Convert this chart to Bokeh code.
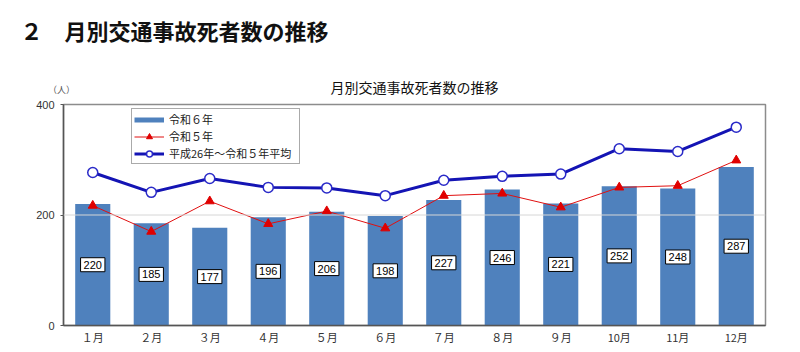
from bokeh.plotting import figure
from bokeh.models import (ColumnDataSource, Range1d, FixedTicker, Label,
                          Span, Legend, LegendItem, Title)
from bokeh.core.properties import value
from bokeh.embed import file_html
from bokeh.resources import INLINE

months = ["１月", "２月", "３月", "４月", "５月", "６月", "７月", "８月", "９月", "10月", "11月", "12月"]
r6 = [220, 185, 177, 196, 206, 198, 227, 246, 221, 252, 248, 287]
r5 = [217, 170, 225, 184, 207, 176, 235, 239, 214, 250, 253, 299]
avg = [277, 241, 266, 250, 249, 235, 263, 270, 274, 320, 315, 359]
y_ticks = [0, 200, 400]

series_names = ["令和６年", "令和５年", "平成26年～令和５年平均"]
header = "２　月別交通事故死者数の推移"
chart_title = "月別交通事故死者数の推移"
unit_label = "（人）"

JP = "Noto Sans CJK JP"
NUM = "Liberation Sans"
BAR_C = "#4F81BD"
RED_C = "#E01010"
BLUE_C = "#1414B4"

src = ColumnDataSource(dict(
    m=months, r6=r6, r5=r5, avg=avg,
    mid=[v / 2 for v in r6],
    txt=[str(v) for v in r6],
))

p = figure(x_range=months, y_range=Range1d(0, 400), width=800, height=352,
           output_backend="svg", toolbar_location=None,
           min_border_left=63, min_border_right=35, min_border_top=104,
           min_border_bottom=27, background_fill_color="white",
           border_fill_color="white")
p.x_range.range_padding = 0
p.xgrid.grid_line_color = None
p.ygrid.grid_line_color = None
p.outline_line_color = "#8c8c8c"
p.outline_line_width = 1.5

# header is the outermost title, chart title sits closer to the frame
p.title.text = header
p.title.text_font = JP
p.title.text_font_size = "22px"
p.title.text_font_style = "bold"
p.title.text_color = "#111111"
p.title.align = "left"
p.title.offset = -43
p.title.standoff = 18
p.add_layout(Title(text=chart_title, text_font=JP, text_font_size="14px",
                   text_font_style="normal", text_color="#111111",
                   align="center", standoff=15), "above")

bars = p.vbar(x="m", top="r6", width=0.6, source=src, fill_color=BAR_C,
              line_color=None)

p.add_layout(Span(location=200, dimension="width", line_color="#D6D6D6",
                  line_width=1))

p.text(x="m", y="mid", text="txt", source=src, text_align="center",
       text_baseline="middle", text_font=value(NUM), text_font_size="11px",
       text_color="black", background_fill_color="white",
       border_line_color="black", border_line_width=1, padding=3)

r5_line = p.line(x="m", y="r5", source=src, line_color=RED_C, line_width=1)
r5_pts = p.scatter(x="m", y="r5", source=src, marker="triangle", size=9,
                   fill_color="#E00000", line_color="#E00000")
avg_line = p.line(x="m", y="avg", source=src, line_color=BLUE_C, line_width=3)
avg_pts = p.scatter(x="m", y="avg", source=src, marker="circle", size=10,
                    fill_color="white", line_color="#2A2AC8", line_width=1.5)

bar_key = p.line(x="m", y="r6", source=src, line_color=BAR_C, line_width=5,
                 visible=False)

legend = Legend(items=[
    LegendItem(label=series_names[0], renderers=[bar_key]),
    LegendItem(label=series_names[1], renderers=[r5_line, r5_pts]),
    LegendItem(label=series_names[2], renderers=[avg_line, avg_pts]),
], location=(68, 161), orientation="vertical", padding=2, spacing=1,
    glyph_width=30, glyph_height=15, label_height=15, label_width=128,
    label_standoff=5, label_text_font=JP, label_text_font_size="11px",
    label_text_color="#222222", border_line_color="#555555",
    border_line_width=1, background_fill_color="white", margin=0,
    inactive_fill_alpha=0)
p.add_layout(legend)

# unit label placed in the top side panel
p.add_layout(Label(x=-2, y=-22, x_units="screen", y_units="screen",
                   text=unit_label, text_font=JP, text_font_size="9px",
                   text_align="center", text_baseline="middle",
                   text_color="#555555"), "above")

# axes
p.yaxis.ticker = FixedTicker(ticks=y_ticks)
p.yaxis.minor_tick_line_color = None
p.yaxis.major_tick_out = 3
p.yaxis.major_tick_in = 0
p.yaxis.major_tick_line_color = "#555555"
p.yaxis.axis_line_color = "#555555"
p.yaxis.axis_line_width = 1.5
p.yaxis.major_label_text_font = NUM
p.yaxis.major_label_text_font_size = "11px"
p.yaxis.major_label_text_color = "#333333"
p.yaxis.major_label_standoff = 6

p.xaxis.major_tick_line_color = None
p.xaxis.axis_line_color = "#555555"
p.xaxis.axis_line_width = 1.5
p.xaxis.major_label_text_font = JP
p.xaxis.major_label_text_font_size = "11px"
p.xaxis.major_label_text_color = "#333333"
p.xaxis.major_label_standoff = -3

open("out.html", "w").write(file_html(p, INLINE))
